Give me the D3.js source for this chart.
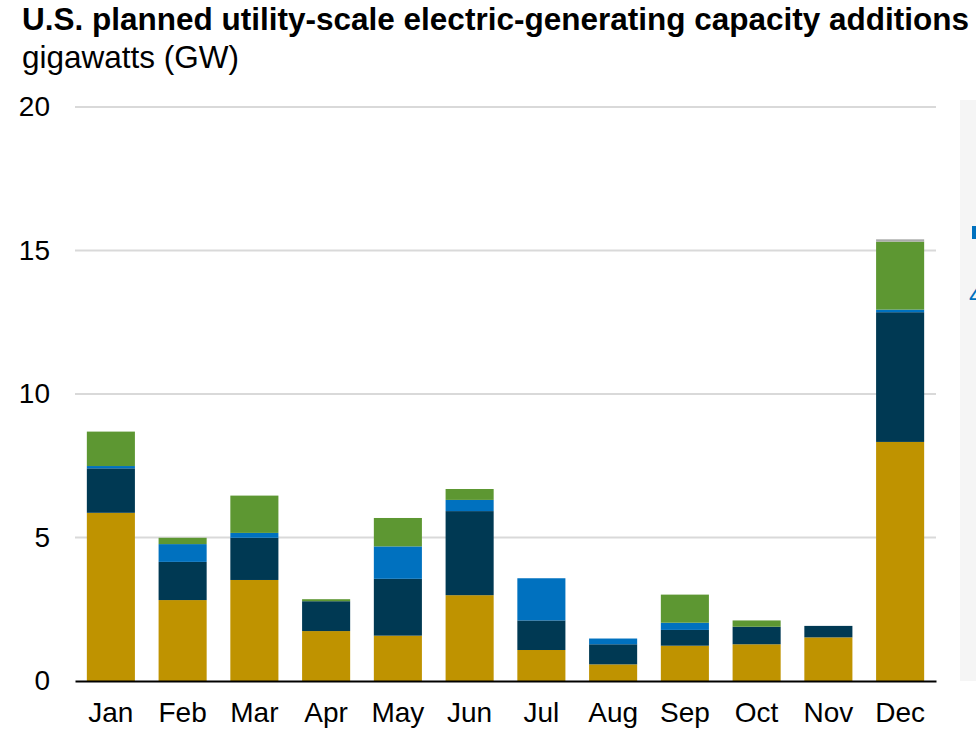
<!DOCTYPE html>
<html>
<head>
<meta charset="utf-8">
<script src="https://cdn.jsdelivr.net/npm/d3@7"></script>
<style>
  body { margin: 0; background: #fff; }
  svg { font-family: "Liberation Sans", Arial, sans-serif; }
</style>
</head>
<body>
<svg id="chart" width="976" height="748"></svg>
<script>
var months = ["Jan","Feb","Mar","Apr","May","Jun","Jul","Aug","Sep","Oct","Nov","Dec"];
var solar   = [5.86, 2.82, 3.52, 1.74, 1.58, 2.99, 1.08, 0.58, 1.23, 1.28, 1.52, 8.33];
var battery = [1.55, 1.33, 1.47, 1.04, 1.98, 2.93, 1.03, 0.70, 0.55, 0.61, 0.40, 4.52];
var wind    = [0.08, 0.62, 0.17, 0.00, 1.13, 0.39, 1.47, 0.20, 0.25, 0.00, 0.00, 0.09];
var gas     = [1.20, 0.22, 1.30, 0.07, 0.99, 0.38, 0.00, 0.00, 0.98, 0.22, 0.00, 2.37];
var other   = [0.00, 0.00, 0.00, 0.00, 0.00, 0.00, 0.00, 0.00, 0.00, 0.00, 0.00, 0.08];
var yTicks = [0, 5, 10, 15, 20];

var keys = ["solar","battery","wind","gas","other"];
var colors = {solar:"#bf9300", battery:"#003953", wind:"#0071bf", gas:"#5d9732", other:"#a9aaa9"};

var data = months.map(function(m, i){
    return {month: m, solar: solar[i], battery: battery[i], wind: wind[i], gas: gas[i], other: other[i]};
});

var svg = d3.select("#chart");
var plotLeft = 75, plotRight = 936, plotTop = 107, plotBottom = 681;

// cut-off side panel
svg.append("rect")
    .attr("x", 960).attr("y", 100)
    .attr("width", 30).attr("height", 581)
    .attr("fill", "#f5f5f5");
svg.append("rect")
    .attr("x", 972).attr("y", 226)
    .attr("width", 8).attr("height", 13)
    .attr("fill", "#0071bf");
svg.append("text")
    .attr("x", 969).attr("y", 304)
    .attr("font-size", 26)
    .attr("fill", "#0071bf")
    .text("4");

svg.append("text")
    .attr("x", 22).attr("y", 30)
    .attr("font-size", 31.5)
    .attr("font-weight", "bold")
    .attr("fill", "#000")
    .text("U.S. planned utility-scale electric-generating capacity additions");

svg.append("text")
    .attr("x", 22).attr("y", 68)
    .attr("font-size", 31.5)
    .attr("fill", "#000")
    .text("gigawatts (GW)");

var xScale = d3.scaleBand()
    .domain(months)
    .range([plotLeft, plotRight])
    .paddingInner(0.33)
    .paddingOuter(0.165);

var yScale = d3.scaleLinear()
    .domain([0, 20])
    .range([plotBottom, plotTop]);

// gridlines
svg.append("g")
    .selectAll("line")
    .data(yTicks.filter(function(d){ return d > 0; }))
    .enter()
    .append("line")
    .attr("x1", plotLeft).attr("x2", plotRight)
    .attr("y1", function(d){ return yScale(d); })
    .attr("y2", function(d){ return yScale(d); })
    .attr("stroke", "#d9d9d9")
    .attr("stroke-width", 2);

var yAxis = svg.append("g")
    .attr("transform", "translate(50,0)")
    .call(d3.axisLeft(yScale).tickValues(yTicks).tickSize(0).tickPadding(0));
yAxis.select(".domain").remove();
yAxis.selectAll("text")
    .attr("font-size", 28)
    .attr("fill", "#000")
    .attr("font-family", "Liberation Sans, Arial, sans-serif");

var stack = d3.stack().keys(keys);
var series = stack(data);

svg.append("g")
    .selectAll("g")
    .data(series)
    .enter()
    .append("g")
    .attr("fill", function(d){ return colors[d.key]; })
    .selectAll("rect")
    .data(function(d){ return d; })
    .enter()
    .append("rect")
    .attr("x", function(d){ return xScale(d.data.month); })
    .attr("width", xScale.bandwidth())
    .attr("y", function(d){ return yScale(d[1]); })
    .attr("height", function(d){ return yScale(d[0]) - yScale(d[1]); });

var xAxis = svg.append("g")
    .attr("transform", "translate(0," + plotBottom + ")")
    .call(d3.axisBottom(xScale).tickSize(0).tickPadding(21));
xAxis.select(".domain")
    .attr("stroke", "#000")
    .attr("stroke-width", 2);
xAxis.selectAll("text")
    .attr("font-size", 28)
    .attr("fill", "#000")
    .attr("font-family", "Liberation Sans, Arial, sans-serif");
</script>
</body>
</html>
